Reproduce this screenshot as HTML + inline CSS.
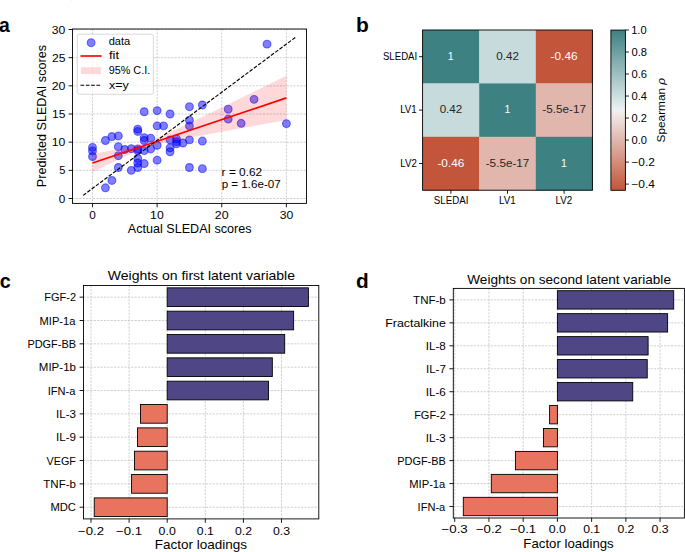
<!DOCTYPE html>
<html><head><meta charset="utf-8"><title>Figure</title>
<style>html,body{margin:0;padding:0;background:#fff;} svg{display:block;} text{font-family:"Liberation Sans",sans-serif;}</style>
</head><body>
<svg width="685" height="552" viewBox="0 0 685 552">
<rect width="685" height="552" fill="#fff"/>
<rect x="71" y="0" width="1" height="1" fill="#f0f0f0"/>
<text x="-0.98" y="32.30" font-size="20.48" font-weight="bold" fill="#000" textLength="10.76" lengthAdjust="spacingAndGlyphs">a</text>
<text x="355.94" y="32.20" font-size="20.48" font-weight="bold" fill="#000" textLength="12.82" lengthAdjust="spacingAndGlyphs">b</text>
<text x="-0.29" y="288.30" font-size="20.48" font-weight="bold" fill="#000" textLength="10.95" lengthAdjust="spacingAndGlyphs">c</text>
<text x="355.97" y="288.10" font-size="20.48" font-weight="bold" fill="#000" textLength="12.70" lengthAdjust="spacingAndGlyphs">d</text>
<clipPath id="clipa"><rect x="72.5" y="29.0" width="234.0" height="174.4"/></clipPath>
<line x1="92.50" y1="29.00" x2="92.50" y2="203.40" stroke="#c4c4c4" stroke-width="0.8" stroke-dasharray="2.2 1.2"/>
<line x1="157.13" y1="29.00" x2="157.13" y2="203.40" stroke="#c4c4c4" stroke-width="0.8" stroke-dasharray="2.2 1.2"/>
<line x1="221.76" y1="29.00" x2="221.76" y2="203.40" stroke="#c4c4c4" stroke-width="0.8" stroke-dasharray="2.2 1.2"/>
<line x1="286.39" y1="29.00" x2="286.39" y2="203.40" stroke="#c4c4c4" stroke-width="0.8" stroke-dasharray="2.2 1.2"/>
<line x1="72.50" y1="198.50" x2="306.50" y2="198.50" stroke="#c4c4c4" stroke-width="0.8" stroke-dasharray="2.2 1.2"/>
<line x1="72.50" y1="170.33" x2="306.50" y2="170.33" stroke="#c4c4c4" stroke-width="0.8" stroke-dasharray="2.2 1.2"/>
<line x1="72.50" y1="142.17" x2="306.50" y2="142.17" stroke="#c4c4c4" stroke-width="0.8" stroke-dasharray="2.2 1.2"/>
<line x1="72.50" y1="114.00" x2="306.50" y2="114.00" stroke="#c4c4c4" stroke-width="0.8" stroke-dasharray="2.2 1.2"/>
<line x1="72.50" y1="85.83" x2="306.50" y2="85.83" stroke="#c4c4c4" stroke-width="0.8" stroke-dasharray="2.2 1.2"/>
<line x1="72.50" y1="57.67" x2="306.50" y2="57.67" stroke="#c4c4c4" stroke-width="0.8" stroke-dasharray="2.2 1.2"/>
<line x1="72.50" y1="29.50" x2="306.50" y2="29.50" stroke="#c4c4c4" stroke-width="0.8" stroke-dasharray="2.2 1.2"/>
<g clip-path="url(#clipa)">
<g fill="#0000ff" fill-opacity="0.5" stroke="#0000ff" stroke-opacity="0.5" stroke-width="1.1">
<circle cx="92.50" cy="147.41" r="3.9"/>
<circle cx="92.50" cy="150.90" r="3.9"/>
<circle cx="92.50" cy="156.48" r="3.9"/>
<circle cx="105.43" cy="140.48" r="3.9"/>
<circle cx="105.43" cy="187.80" r="3.9"/>
<circle cx="111.89" cy="136.53" r="3.9"/>
<circle cx="111.89" cy="180.47" r="3.9"/>
<circle cx="118.35" cy="135.97" r="3.9"/>
<circle cx="118.35" cy="146.67" r="3.9"/>
<circle cx="118.35" cy="155.69" r="3.9"/>
<circle cx="118.35" cy="167.52" r="3.9"/>
<circle cx="124.81" cy="149.49" r="3.9"/>
<circle cx="131.28" cy="148.65" r="3.9"/>
<circle cx="131.28" cy="170.33" r="3.9"/>
<circle cx="137.74" cy="129.21" r="3.9"/>
<circle cx="137.74" cy="131.46" r="3.9"/>
<circle cx="137.74" cy="148.93" r="3.9"/>
<circle cx="137.74" cy="150.62" r="3.9"/>
<circle cx="137.74" cy="158.50" r="3.9"/>
<circle cx="137.74" cy="163.01" r="3.9"/>
<circle cx="137.74" cy="167.52" r="3.9"/>
<circle cx="144.20" cy="111.75" r="3.9"/>
<circle cx="144.20" cy="137.66" r="3.9"/>
<circle cx="144.20" cy="140.48" r="3.9"/>
<circle cx="144.20" cy="150.62" r="3.9"/>
<circle cx="144.20" cy="163.57" r="3.9"/>
<circle cx="150.67" cy="138.22" r="3.9"/>
<circle cx="150.67" cy="148.93" r="3.9"/>
<circle cx="157.13" cy="110.62" r="3.9"/>
<circle cx="157.13" cy="125.83" r="3.9"/>
<circle cx="157.13" cy="145.27" r="3.9"/>
<circle cx="157.13" cy="160.19" r="3.9"/>
<circle cx="163.59" cy="125.83" r="3.9"/>
<circle cx="170.06" cy="114.00" r="3.9"/>
<circle cx="170.06" cy="139.91" r="3.9"/>
<circle cx="170.06" cy="147.80" r="3.9"/>
<circle cx="170.06" cy="151.74" r="3.9"/>
<circle cx="176.52" cy="138.79" r="3.9"/>
<circle cx="176.52" cy="141.60" r="3.9"/>
<circle cx="176.52" cy="143.86" r="3.9"/>
<circle cx="182.98" cy="143.01" r="3.9"/>
<circle cx="189.44" cy="106.68" r="3.9"/>
<circle cx="189.44" cy="120.20" r="3.9"/>
<circle cx="189.44" cy="125.83" r="3.9"/>
<circle cx="189.44" cy="139.91" r="3.9"/>
<circle cx="189.44" cy="167.52" r="3.9"/>
<circle cx="202.37" cy="104.99" r="3.9"/>
<circle cx="202.37" cy="141.04" r="3.9"/>
<circle cx="202.37" cy="168.64" r="3.9"/>
<circle cx="228.22" cy="109.21" r="3.9"/>
<circle cx="228.22" cy="119.07" r="3.9"/>
<circle cx="241.15" cy="123.30" r="3.9"/>
<circle cx="254.07" cy="99.35" r="3.9"/>
<circle cx="267.00" cy="44.15" r="3.9"/>
<circle cx="286.39" cy="123.58" r="3.9"/>
</g>
<path d="M92.50,153.99 L95.73,153.39 L98.96,152.79 L102.19,152.18 L105.43,151.56 L108.66,150.94 L111.89,150.31 L115.12,149.68 L118.35,149.03 L121.58,148.37 L124.81,147.69 L128.05,146.99 L131.28,146.25 L134.51,145.48 L137.74,144.66 L140.97,143.77 L144.20,142.80 L147.44,141.74 L150.67,140.59 L153.90,139.36 L157.13,138.05 L160.36,136.68 L163.59,135.26 L166.82,133.81 L170.06,132.34 L173.29,130.84 L176.52,129.32 L179.75,127.79 L182.98,126.25 L186.21,124.71 L189.44,123.15 L192.68,121.60 L195.91,120.03 L199.14,118.47 L202.37,116.90 L205.60,115.33 L208.83,113.75 L212.07,112.18 L215.30,110.60 L218.53,109.02 L221.76,107.44 L224.99,105.86 L228.22,104.27 L231.45,102.69 L234.69,101.10 L237.92,99.52 L241.15,97.93 L244.38,96.35 L247.61,94.76 L250.84,93.17 L254.07,91.58 L257.31,90.00 L260.54,88.41 L263.77,86.82 L267.00,85.23 L270.23,83.64 L273.46,82.05 L276.70,80.46 L279.93,78.87 L283.16,77.28 L286.39,75.69 L286.39,120.09 L283.16,120.67 L279.93,121.25 L276.70,121.83 L273.46,122.41 L270.23,122.99 L267.00,123.57 L263.77,124.16 L260.54,124.74 L257.31,125.32 L254.07,125.90 L250.84,126.48 L247.61,127.07 L244.38,127.65 L241.15,128.23 L237.92,128.82 L234.69,129.40 L231.45,129.99 L228.22,130.58 L224.99,131.17 L221.76,131.75 L218.53,132.34 L215.30,132.94 L212.07,133.53 L208.83,134.12 L205.60,134.72 L202.37,135.32 L199.14,135.92 L195.91,136.52 L192.68,137.13 L189.44,137.74 L186.21,138.36 L182.98,138.99 L179.75,139.62 L176.52,140.26 L173.29,140.92 L170.06,141.59 L166.82,142.28 L163.59,143.00 L160.36,143.76 L157.13,144.56 L153.90,145.42 L150.67,146.36 L147.44,147.38 L144.20,148.49 L140.97,149.69 L137.74,150.97 L134.51,152.32 L131.28,153.72 L128.05,155.16 L124.81,156.62 L121.58,158.12 L118.35,159.62 L115.12,161.15 L111.89,162.68 L108.66,164.23 L105.43,165.78 L102.19,167.33 L98.96,168.89 L95.73,170.46 L92.50,172.03 Z" fill="#ff0000" fill-opacity="0.15"/>
<line x1="92.50" y1="163.01" x2="286.39" y2="97.89" stroke="#ff0000" stroke-width="1.67"/>
<line x1="83.10" y1="195.40" x2="296.30" y2="36.70" stroke="#000" stroke-width="1.15" stroke-dasharray="3.716 1.607"/>
</g>
<rect x="77.3" y="34.2" width="76.1" height="60.1" rx="2.2" fill="#fff" fill-opacity="0.8" stroke="#cccccc" stroke-opacity="0.8" stroke-width="0.9"/>
<circle cx="91.1" cy="42.7" r="3.9" fill="#0000ff" fill-opacity="0.5" stroke="#0000ff" stroke-opacity="0.5" stroke-width="1.1"/>
<line x1="80.50" y1="56.00" x2="101.60" y2="56.00" stroke="#ff0000" stroke-width="1.67"/>
<rect x="80.9" y="67.2" width="20.0" height="6.8" fill="#ff0000" fill-opacity="0.15"/>
<line x1="80.50" y1="85.20" x2="101.60" y2="85.20" stroke="#000" stroke-width="1.1" stroke-dasharray="3.7 1.6"/>
<text x="108.73" y="45.00" font-size="10.00" font-weight="normal" fill="#000" textLength="21.53" lengthAdjust="spacingAndGlyphs">data</text>
<text x="109.01" y="59.40" font-size="10.00" font-weight="normal" fill="#000" textLength="10.05" lengthAdjust="spacingAndGlyphs">fit</text>
<text x="108.69" y="74.30" font-size="10.00" font-weight="normal" fill="#000" textLength="41.49" lengthAdjust="spacingAndGlyphs">95% C.I.</text>
<text x="109.04" y="88.60" font-size="10.00" font-weight="normal" fill="#000" textLength="19.80" lengthAdjust="spacingAndGlyphs">x=y</text>
<text x="221.63" y="176.00" font-size="10.00" font-weight="normal" fill="#000" textLength="40.61" lengthAdjust="spacingAndGlyphs">r = 0.62</text>
<text x="221.65" y="187.70" font-size="10.00" font-weight="normal" fill="#000" textLength="59.04" lengthAdjust="spacingAndGlyphs">p = 1.6e-07</text>
<rect x="72.50" y="29.00" width="234.00" height="174.40" fill="none" stroke="#000" stroke-width="0.9"/>
<line x1="92.50" y1="203.40" x2="92.50" y2="207.30" stroke="#000" stroke-width="0.9"/>
<text x="89.23" y="219.10" font-size="11.65" font-weight="normal" fill="#000" textLength="6.53" lengthAdjust="spacingAndGlyphs">0</text>
<line x1="157.13" y1="203.40" x2="157.13" y2="207.30" stroke="#000" stroke-width="0.9"/>
<text x="150.12" y="219.10" font-size="11.65" font-weight="normal" fill="#000" textLength="13.58" lengthAdjust="spacingAndGlyphs">10</text>
<line x1="221.76" y1="203.40" x2="221.76" y2="207.30" stroke="#000" stroke-width="0.9"/>
<text x="214.84" y="219.10" font-size="11.65" font-weight="normal" fill="#000" textLength="13.71" lengthAdjust="spacingAndGlyphs">20</text>
<line x1="286.39" y1="203.40" x2="286.39" y2="207.30" stroke="#000" stroke-width="0.9"/>
<text x="279.65" y="219.10" font-size="11.65" font-weight="normal" fill="#000" textLength="13.51" lengthAdjust="spacingAndGlyphs">30</text>
<line x1="68.60" y1="198.50" x2="72.50" y2="198.50" stroke="#000" stroke-width="0.9"/>
<text x="58.82" y="202.55" font-size="11.65" font-weight="normal" fill="#000" textLength="6.53" lengthAdjust="spacingAndGlyphs">0</text>
<line x1="68.60" y1="170.33" x2="72.50" y2="170.33" stroke="#000" stroke-width="0.9"/>
<text x="59.21" y="174.38" font-size="11.65" font-weight="normal" fill="#000" textLength="6.14" lengthAdjust="spacingAndGlyphs">5</text>
<line x1="68.60" y1="142.17" x2="72.50" y2="142.17" stroke="#000" stroke-width="0.9"/>
<text x="51.80" y="146.22" font-size="11.65" font-weight="normal" fill="#000" textLength="13.58" lengthAdjust="spacingAndGlyphs">10</text>
<line x1="68.60" y1="114.00" x2="72.50" y2="114.00" stroke="#000" stroke-width="0.9"/>
<text x="52.04" y="118.05" font-size="11.65" font-weight="normal" fill="#000" textLength="13.37" lengthAdjust="spacingAndGlyphs">15</text>
<line x1="68.60" y1="85.83" x2="72.50" y2="85.83" stroke="#000" stroke-width="0.9"/>
<text x="51.69" y="89.88" font-size="11.65" font-weight="normal" fill="#000" textLength="13.71" lengthAdjust="spacingAndGlyphs">20</text>
<line x1="68.60" y1="57.67" x2="72.50" y2="57.67" stroke="#000" stroke-width="0.9"/>
<text x="51.92" y="61.72" font-size="11.65" font-weight="normal" fill="#000" textLength="13.50" lengthAdjust="spacingAndGlyphs">25</text>
<line x1="68.60" y1="29.50" x2="72.50" y2="29.50" stroke="#000" stroke-width="0.9"/>
<text x="51.87" y="33.55" font-size="11.65" font-weight="normal" fill="#000" textLength="13.51" lengthAdjust="spacingAndGlyphs">30</text>
<text x="127.82" y="232.70" font-size="12.36" font-weight="normal" fill="#000" textLength="123.76" lengthAdjust="spacingAndGlyphs">Actual SLEDAI scores</text>
<text transform="translate(45.85,115.80) rotate(-90)" x="-71.35" y="0" font-size="12.36" font-weight="normal" fill="#000" textLength="142.11" lengthAdjust="spacingAndGlyphs">Predicted SLEDAI scores</text>
<rect x="422.60" y="30.00" width="56.90" height="53.70" fill="#3d8183"/>
<rect x="479.20" y="30.00" width="56.90" height="53.70" fill="#c8dbdc"/>
<rect x="535.80" y="30.00" width="56.90" height="53.70" fill="#c3553a"/>
<rect x="422.60" y="83.40" width="56.90" height="53.70" fill="#c8dbdc"/>
<rect x="479.20" y="83.40" width="56.90" height="53.70" fill="#3d8183"/>
<rect x="535.80" y="83.40" width="56.90" height="53.70" fill="#e1b7ad"/>
<rect x="422.60" y="136.80" width="56.90" height="53.70" fill="#c3553a"/>
<rect x="479.20" y="136.80" width="56.90" height="53.70" fill="#e1b7ad"/>
<rect x="535.80" y="136.80" width="56.90" height="53.70" fill="#3d8183"/>
<text x="447.84" y="59.90" font-size="10.97" font-weight="normal" fill="#ffffff" textLength="5.85" lengthAdjust="spacingAndGlyphs">1</text>
<text x="496.26" y="59.90" font-size="10.97" font-weight="normal" fill="#262626" textLength="22.61" lengthAdjust="spacingAndGlyphs">0.42</text>
<text x="550.62" y="59.90" font-size="10.97" font-weight="normal" fill="#ffffff" textLength="26.95" lengthAdjust="spacingAndGlyphs">-0.46</text>
<text x="439.66" y="113.30" font-size="10.97" font-weight="normal" fill="#262626" textLength="22.61" lengthAdjust="spacingAndGlyphs">0.42</text>
<text x="504.44" y="113.30" font-size="10.97" font-weight="normal" fill="#ffffff" textLength="5.85" lengthAdjust="spacingAndGlyphs">1</text>
<text x="542.33" y="113.30" font-size="10.97" font-weight="normal" fill="#262626" textLength="43.62" lengthAdjust="spacingAndGlyphs">-5.5e-17</text>
<text x="437.42" y="166.70" font-size="10.97" font-weight="normal" fill="#ffffff" textLength="26.95" lengthAdjust="spacingAndGlyphs">-0.46</text>
<text x="485.73" y="166.70" font-size="10.97" font-weight="normal" fill="#262626" textLength="43.62" lengthAdjust="spacingAndGlyphs">-5.5e-17</text>
<text x="561.04" y="166.70" font-size="10.97" font-weight="normal" fill="#ffffff" textLength="5.85" lengthAdjust="spacingAndGlyphs">1</text>
<rect x="422.60" y="30.00" width="169.80" height="160.20" fill="none" stroke="#000" stroke-width="0.9"/>
<line x1="419.10" y1="56.70" x2="422.60" y2="56.70" stroke="#000" stroke-width="0.9"/>
<text x="382.96" y="59.70" font-size="9.99" font-weight="normal" fill="#000" textLength="34.23" lengthAdjust="spacingAndGlyphs">SLEDAI</text>
<line x1="450.90" y1="190.20" x2="450.90" y2="193.70" stroke="#000" stroke-width="0.9"/>
<text x="433.84" y="203.60" font-size="10.00" font-weight="normal" fill="#000" textLength="34.58" lengthAdjust="spacingAndGlyphs">SLEDAI</text>
<line x1="419.10" y1="110.10" x2="422.60" y2="110.10" stroke="#000" stroke-width="0.9"/>
<text x="400.17" y="113.10" font-size="9.99" font-weight="normal" fill="#000" textLength="16.59" lengthAdjust="spacingAndGlyphs">LV1</text>
<line x1="507.50" y1="190.20" x2="507.50" y2="193.70" stroke="#000" stroke-width="0.9"/>
<text x="498.95" y="203.60" font-size="10.00" font-weight="normal" fill="#000" textLength="16.76" lengthAdjust="spacingAndGlyphs">LV1</text>
<line x1="419.10" y1="163.50" x2="422.60" y2="163.50" stroke="#000" stroke-width="0.9"/>
<text x="400.25" y="166.50" font-size="9.99" font-weight="normal" fill="#000" textLength="16.54" lengthAdjust="spacingAndGlyphs">LV2</text>
<line x1="564.10" y1="190.20" x2="564.10" y2="193.70" stroke="#000" stroke-width="0.9"/>
<text x="555.59" y="203.60" font-size="10.00" font-weight="normal" fill="#000" textLength="16.71" lengthAdjust="spacingAndGlyphs">LV2</text>
<linearGradient id="cbg" x1="0" y1="1" x2="0" y2="0">
<stop offset="0.000" stop-color="#c3553a"/>
<stop offset="0.050" stop-color="#c7644b"/>
<stop offset="0.100" stop-color="#cc745d"/>
<stop offset="0.150" stop-color="#d18470"/>
<stop offset="0.200" stop-color="#d69483"/>
<stop offset="0.250" stop-color="#dba496"/>
<stop offset="0.300" stop-color="#dfb3a7"/>
<stop offset="0.350" stop-color="#e4c2ba"/>
<stop offset="0.400" stop-color="#e9d2cd"/>
<stop offset="0.450" stop-color="#eee2df"/>
<stop offset="0.500" stop-color="#eff2f2"/>
<stop offset="0.550" stop-color="#dbe8e8"/>
<stop offset="0.600" stop-color="#cadcdd"/>
<stop offset="0.650" stop-color="#b8d1d1"/>
<stop offset="0.700" stop-color="#a6c5c6"/>
<stop offset="0.750" stop-color="#94b9ba"/>
<stop offset="0.800" stop-color="#83afb0"/>
<stop offset="0.850" stop-color="#71a3a4"/>
<stop offset="0.900" stop-color="#609799"/>
<stop offset="0.950" stop-color="#4e8c8e"/>
<stop offset="1.000" stop-color="#3d8183"/>
</linearGradient>
<rect x="610.9" y="30.1" width="14.50" height="160.20" fill="url(#cbg)" stroke="#000" stroke-width="0.9"/>
<line x1="625.40" y1="30.00" x2="628.90" y2="30.00" stroke="#000" stroke-width="0.9"/>
<text x="631.17" y="34.10" font-size="10.00" font-weight="normal" fill="#000" textLength="15.40" lengthAdjust="spacingAndGlyphs">1.0</text>
<line x1="625.40" y1="52.01" x2="628.90" y2="52.01" stroke="#000" stroke-width="0.9"/>
<text x="631.55" y="56.11" font-size="10.00" font-weight="normal" fill="#000" textLength="15.50" lengthAdjust="spacingAndGlyphs">0.8</text>
<line x1="625.40" y1="74.03" x2="628.90" y2="74.03" stroke="#000" stroke-width="0.9"/>
<text x="631.55" y="78.13" font-size="10.00" font-weight="normal" fill="#000" textLength="15.55" lengthAdjust="spacingAndGlyphs">0.6</text>
<line x1="625.40" y1="96.04" x2="628.90" y2="96.04" stroke="#000" stroke-width="0.9"/>
<text x="631.56" y="100.14" font-size="10.00" font-weight="normal" fill="#000" textLength="15.45" lengthAdjust="spacingAndGlyphs">0.4</text>
<line x1="625.40" y1="118.06" x2="628.90" y2="118.06" stroke="#000" stroke-width="0.9"/>
<text x="631.56" y="122.16" font-size="10.00" font-weight="normal" fill="#000" textLength="15.27" lengthAdjust="spacingAndGlyphs">0.2</text>
<line x1="625.40" y1="140.07" x2="628.90" y2="140.07" stroke="#000" stroke-width="0.9"/>
<text x="631.56" y="144.17" font-size="10.00" font-weight="normal" fill="#000" textLength="15.46" lengthAdjust="spacingAndGlyphs">0.0</text>
<line x1="625.40" y1="162.08" x2="628.90" y2="162.08" stroke="#000" stroke-width="0.9"/>
<text x="631.41" y="166.18" font-size="10.00" font-weight="normal" fill="#000" textLength="23.46" lengthAdjust="spacingAndGlyphs">−0.2</text>
<line x1="625.40" y1="184.10" x2="628.90" y2="184.10" stroke="#000" stroke-width="0.9"/>
<text x="631.40" y="188.20" font-size="10.00" font-weight="normal" fill="#000" textLength="23.62" lengthAdjust="spacingAndGlyphs">−0.4</text>
<line x1="91.00" y1="285.50" x2="91.00" y2="518.90" stroke="#c4c4c4" stroke-width="0.8" stroke-dasharray="2.2 1.2"/>
<line x1="129.10" y1="285.50" x2="129.10" y2="518.90" stroke="#c4c4c4" stroke-width="0.8" stroke-dasharray="2.2 1.2"/>
<line x1="167.20" y1="285.50" x2="167.20" y2="518.90" stroke="#c4c4c4" stroke-width="0.8" stroke-dasharray="2.2 1.2"/>
<line x1="205.30" y1="285.50" x2="205.30" y2="518.90" stroke="#c4c4c4" stroke-width="0.8" stroke-dasharray="2.2 1.2"/>
<line x1="243.40" y1="285.50" x2="243.40" y2="518.90" stroke="#c4c4c4" stroke-width="0.8" stroke-dasharray="2.2 1.2"/>
<line x1="281.50" y1="285.50" x2="281.50" y2="518.90" stroke="#c4c4c4" stroke-width="0.8" stroke-dasharray="2.2 1.2"/>
<line x1="83.50" y1="297.17" x2="318.80" y2="297.17" stroke="#c4c4c4" stroke-width="0.8" stroke-dasharray="2.2 1.2"/>
<line x1="83.50" y1="320.51" x2="318.80" y2="320.51" stroke="#c4c4c4" stroke-width="0.8" stroke-dasharray="2.2 1.2"/>
<line x1="83.50" y1="343.85" x2="318.80" y2="343.85" stroke="#c4c4c4" stroke-width="0.8" stroke-dasharray="2.2 1.2"/>
<line x1="83.50" y1="367.19" x2="318.80" y2="367.19" stroke="#c4c4c4" stroke-width="0.8" stroke-dasharray="2.2 1.2"/>
<line x1="83.50" y1="390.53" x2="318.80" y2="390.53" stroke="#c4c4c4" stroke-width="0.8" stroke-dasharray="2.2 1.2"/>
<line x1="83.50" y1="413.87" x2="318.80" y2="413.87" stroke="#c4c4c4" stroke-width="0.8" stroke-dasharray="2.2 1.2"/>
<line x1="83.50" y1="437.21" x2="318.80" y2="437.21" stroke="#c4c4c4" stroke-width="0.8" stroke-dasharray="2.2 1.2"/>
<line x1="83.50" y1="460.55" x2="318.80" y2="460.55" stroke="#c4c4c4" stroke-width="0.8" stroke-dasharray="2.2 1.2"/>
<line x1="83.50" y1="483.89" x2="318.80" y2="483.89" stroke="#c4c4c4" stroke-width="0.8" stroke-dasharray="2.2 1.2"/>
<line x1="83.50" y1="507.23" x2="318.80" y2="507.23" stroke="#c4c4c4" stroke-width="0.8" stroke-dasharray="2.2 1.2"/>
<rect x="167.20" y="287.83" width="141.20" height="18.67" fill="#4f4785" stroke="#000" stroke-width="0.9"/>
<rect x="167.20" y="311.17" width="126.42" height="18.67" fill="#4f4785" stroke="#000" stroke-width="0.9"/>
<rect x="167.20" y="334.51" width="117.50" height="18.67" fill="#4f4785" stroke="#000" stroke-width="0.9"/>
<rect x="167.20" y="357.85" width="105.12" height="18.67" fill="#4f4785" stroke="#000" stroke-width="0.9"/>
<rect x="167.20" y="381.19" width="101.31" height="18.67" fill="#4f4785" stroke="#000" stroke-width="0.9"/>
<rect x="140.53" y="404.53" width="26.67" height="18.67" fill="#e8735f" stroke="#000" stroke-width="0.9"/>
<rect x="137.48" y="427.87" width="29.72" height="18.67" fill="#e8735f" stroke="#000" stroke-width="0.9"/>
<rect x="134.43" y="451.21" width="32.77" height="18.67" fill="#e8735f" stroke="#000" stroke-width="0.9"/>
<rect x="131.58" y="474.55" width="35.62" height="18.67" fill="#e8735f" stroke="#000" stroke-width="0.9"/>
<rect x="94.24" y="497.89" width="72.96" height="18.67" fill="#e8735f" stroke="#000" stroke-width="0.9"/>
<rect x="83.50" y="285.50" width="235.30" height="233.40" fill="none" stroke="#000" stroke-width="0.9"/>
<line x1="91.00" y1="518.90" x2="91.00" y2="522.80" stroke="#000" stroke-width="0.9"/>
<text x="77.99" y="534.80" font-size="11.65" font-weight="normal" fill="#000" textLength="26.04" lengthAdjust="spacingAndGlyphs">−0.2</text>
<line x1="129.10" y1="518.90" x2="129.10" y2="522.80" stroke="#000" stroke-width="0.9"/>
<text x="116.05" y="534.80" font-size="11.65" font-weight="normal" fill="#000" textLength="26.09" lengthAdjust="spacingAndGlyphs">−0.1</text>
<line x1="167.20" y1="518.90" x2="167.20" y2="522.80" stroke="#000" stroke-width="0.9"/>
<text x="158.60" y="534.80" font-size="11.65" font-weight="normal" fill="#000" textLength="17.17" lengthAdjust="spacingAndGlyphs">0.0</text>
<line x1="205.30" y1="518.90" x2="205.30" y2="522.80" stroke="#000" stroke-width="0.9"/>
<text x="196.85" y="534.80" font-size="11.65" font-weight="normal" fill="#000" textLength="17.00" lengthAdjust="spacingAndGlyphs">0.1</text>
<line x1="243.40" y1="518.90" x2="243.40" y2="522.80" stroke="#000" stroke-width="0.9"/>
<text x="234.99" y="534.80" font-size="11.65" font-weight="normal" fill="#000" textLength="16.94" lengthAdjust="spacingAndGlyphs">0.2</text>
<line x1="281.50" y1="518.90" x2="281.50" y2="522.80" stroke="#000" stroke-width="0.9"/>
<text x="272.97" y="534.80" font-size="11.65" font-weight="normal" fill="#000" textLength="17.08" lengthAdjust="spacingAndGlyphs">0.3</text>
<line x1="79.60" y1="297.17" x2="83.50" y2="297.17" stroke="#000" stroke-width="0.9"/>
<text x="44.35" y="301.22" font-size="11.65" font-weight="normal" fill="#000" textLength="31.72" lengthAdjust="spacingAndGlyphs">FGF-2</text>
<line x1="79.60" y1="320.51" x2="83.50" y2="320.51" stroke="#000" stroke-width="0.9"/>
<text x="39.50" y="324.56" font-size="11.65" font-weight="normal" fill="#000" textLength="35.98" lengthAdjust="spacingAndGlyphs">MIP-1a</text>
<line x1="79.60" y1="343.85" x2="83.50" y2="343.85" stroke="#000" stroke-width="0.9"/>
<text x="27.39" y="347.90" font-size="11.65" font-weight="normal" fill="#000" textLength="48.68" lengthAdjust="spacingAndGlyphs">PDGF-BB</text>
<line x1="79.60" y1="367.19" x2="83.50" y2="367.19" stroke="#000" stroke-width="0.9"/>
<text x="38.84" y="371.24" font-size="11.65" font-weight="normal" fill="#000" textLength="37.13" lengthAdjust="spacingAndGlyphs">MIP-1b</text>
<line x1="79.60" y1="390.53" x2="83.50" y2="390.53" stroke="#000" stroke-width="0.9"/>
<text x="47.78" y="394.58" font-size="11.65" font-weight="normal" fill="#000" textLength="27.69" lengthAdjust="spacingAndGlyphs">IFN-a</text>
<line x1="79.60" y1="413.87" x2="83.50" y2="413.87" stroke="#000" stroke-width="0.9"/>
<text x="56.06" y="417.92" font-size="11.65" font-weight="normal" fill="#000" textLength="19.94" lengthAdjust="spacingAndGlyphs">IL-3</text>
<line x1="79.60" y1="437.21" x2="83.50" y2="437.21" stroke="#000" stroke-width="0.9"/>
<text x="55.97" y="441.26" font-size="11.65" font-weight="normal" fill="#000" textLength="20.06" lengthAdjust="spacingAndGlyphs">IL-9</text>
<line x1="79.60" y1="460.55" x2="83.50" y2="460.55" stroke="#000" stroke-width="0.9"/>
<text x="46.59" y="464.60" font-size="11.65" font-weight="normal" fill="#000" textLength="29.35" lengthAdjust="spacingAndGlyphs">VEGF</text>
<line x1="79.60" y1="483.89" x2="83.50" y2="483.89" stroke="#000" stroke-width="0.9"/>
<text x="43.30" y="487.94" font-size="11.65" font-weight="normal" fill="#000" textLength="32.67" lengthAdjust="spacingAndGlyphs">TNF-b</text>
<line x1="79.60" y1="507.23" x2="83.50" y2="507.23" stroke="#000" stroke-width="0.9"/>
<text x="50.38" y="511.28" font-size="11.65" font-weight="normal" fill="#000" textLength="25.54" lengthAdjust="spacingAndGlyphs">MDC</text>
<text x="107.83" y="279.70" font-size="12.76" font-weight="normal" fill="#000" textLength="187.17" lengthAdjust="spacingAndGlyphs">Weights on first latent variable</text>
<text x="154.67" y="548.60" font-size="12.81" font-weight="normal" fill="#000" textLength="92.32" lengthAdjust="spacingAndGlyphs">Factor loadings</text>
<line x1="454.71" y1="288.40" x2="454.71" y2="518.00" stroke="#c4c4c4" stroke-width="0.8" stroke-dasharray="2.2 1.2"/>
<line x1="488.94" y1="288.40" x2="488.94" y2="518.00" stroke="#c4c4c4" stroke-width="0.8" stroke-dasharray="2.2 1.2"/>
<line x1="523.17" y1="288.40" x2="523.17" y2="518.00" stroke="#c4c4c4" stroke-width="0.8" stroke-dasharray="2.2 1.2"/>
<line x1="557.40" y1="288.40" x2="557.40" y2="518.00" stroke="#c4c4c4" stroke-width="0.8" stroke-dasharray="2.2 1.2"/>
<line x1="591.63" y1="288.40" x2="591.63" y2="518.00" stroke="#c4c4c4" stroke-width="0.8" stroke-dasharray="2.2 1.2"/>
<line x1="625.86" y1="288.40" x2="625.86" y2="518.00" stroke="#c4c4c4" stroke-width="0.8" stroke-dasharray="2.2 1.2"/>
<line x1="660.09" y1="288.40" x2="660.09" y2="518.00" stroke="#c4c4c4" stroke-width="0.8" stroke-dasharray="2.2 1.2"/>
<line x1="453.30" y1="299.88" x2="684.40" y2="299.88" stroke="#c4c4c4" stroke-width="0.8" stroke-dasharray="2.2 1.2"/>
<line x1="453.30" y1="322.84" x2="684.40" y2="322.84" stroke="#c4c4c4" stroke-width="0.8" stroke-dasharray="2.2 1.2"/>
<line x1="453.30" y1="345.80" x2="684.40" y2="345.80" stroke="#c4c4c4" stroke-width="0.8" stroke-dasharray="2.2 1.2"/>
<line x1="453.30" y1="368.76" x2="684.40" y2="368.76" stroke="#c4c4c4" stroke-width="0.8" stroke-dasharray="2.2 1.2"/>
<line x1="453.30" y1="391.72" x2="684.40" y2="391.72" stroke="#c4c4c4" stroke-width="0.8" stroke-dasharray="2.2 1.2"/>
<line x1="453.30" y1="414.68" x2="684.40" y2="414.68" stroke="#c4c4c4" stroke-width="0.8" stroke-dasharray="2.2 1.2"/>
<line x1="453.30" y1="437.64" x2="684.40" y2="437.64" stroke="#c4c4c4" stroke-width="0.8" stroke-dasharray="2.2 1.2"/>
<line x1="453.30" y1="460.60" x2="684.40" y2="460.60" stroke="#c4c4c4" stroke-width="0.8" stroke-dasharray="2.2 1.2"/>
<line x1="453.30" y1="483.56" x2="684.40" y2="483.56" stroke="#c4c4c4" stroke-width="0.8" stroke-dasharray="2.2 1.2"/>
<line x1="453.30" y1="506.52" x2="684.40" y2="506.52" stroke="#c4c4c4" stroke-width="0.8" stroke-dasharray="2.2 1.2"/>
<rect x="557.40" y="290.70" width="116.31" height="18.37" fill="#4f4785" stroke="#000" stroke-width="0.9"/>
<rect x="557.40" y="313.66" width="110.22" height="18.37" fill="#4f4785" stroke="#000" stroke-width="0.9"/>
<rect x="557.40" y="336.62" width="90.71" height="18.37" fill="#4f4785" stroke="#000" stroke-width="0.9"/>
<rect x="557.40" y="359.58" width="89.82" height="18.37" fill="#4f4785" stroke="#000" stroke-width="0.9"/>
<rect x="557.40" y="382.54" width="75.34" height="18.37" fill="#4f4785" stroke="#000" stroke-width="0.9"/>
<rect x="549.60" y="405.50" width="7.80" height="18.37" fill="#e8735f" stroke="#000" stroke-width="0.9"/>
<rect x="543.50" y="428.46" width="13.90" height="18.37" fill="#e8735f" stroke="#000" stroke-width="0.9"/>
<rect x="515.40" y="451.42" width="42.00" height="18.37" fill="#e8735f" stroke="#000" stroke-width="0.9"/>
<rect x="491.30" y="474.38" width="66.10" height="18.37" fill="#e8735f" stroke="#000" stroke-width="0.9"/>
<rect x="463.30" y="497.34" width="94.10" height="18.37" fill="#e8735f" stroke="#000" stroke-width="0.9"/>
<rect x="453.30" y="288.40" width="231.10" height="229.60" fill="none" stroke="#000" stroke-width="0.9"/>
<line x1="454.71" y1="518.00" x2="454.71" y2="521.90" stroke="#000" stroke-width="0.9"/>
<text x="441.59" y="533.40" font-size="11.65" font-weight="normal" fill="#000" textLength="26.17" lengthAdjust="spacingAndGlyphs">−0.3</text>
<line x1="488.94" y1="518.00" x2="488.94" y2="521.90" stroke="#000" stroke-width="0.9"/>
<text x="475.93" y="533.40" font-size="11.65" font-weight="normal" fill="#000" textLength="26.04" lengthAdjust="spacingAndGlyphs">−0.2</text>
<line x1="523.17" y1="518.00" x2="523.17" y2="521.90" stroke="#000" stroke-width="0.9"/>
<text x="510.12" y="533.40" font-size="11.65" font-weight="normal" fill="#000" textLength="26.09" lengthAdjust="spacingAndGlyphs">−0.1</text>
<line x1="557.40" y1="518.00" x2="557.40" y2="521.90" stroke="#000" stroke-width="0.9"/>
<text x="548.80" y="533.40" font-size="11.65" font-weight="normal" fill="#000" textLength="17.17" lengthAdjust="spacingAndGlyphs">0.0</text>
<line x1="591.63" y1="518.00" x2="591.63" y2="521.90" stroke="#000" stroke-width="0.9"/>
<text x="583.18" y="533.40" font-size="11.65" font-weight="normal" fill="#000" textLength="17.00" lengthAdjust="spacingAndGlyphs">0.1</text>
<line x1="625.86" y1="518.00" x2="625.86" y2="521.90" stroke="#000" stroke-width="0.9"/>
<text x="617.45" y="533.40" font-size="11.65" font-weight="normal" fill="#000" textLength="16.94" lengthAdjust="spacingAndGlyphs">0.2</text>
<line x1="660.09" y1="518.00" x2="660.09" y2="521.90" stroke="#000" stroke-width="0.9"/>
<text x="651.56" y="533.40" font-size="11.65" font-weight="normal" fill="#000" textLength="17.08" lengthAdjust="spacingAndGlyphs">0.3</text>
<line x1="449.40" y1="299.88" x2="453.30" y2="299.88" stroke="#000" stroke-width="0.9"/>
<text x="413.10" y="303.93" font-size="11.65" font-weight="normal" fill="#000" textLength="32.67" lengthAdjust="spacingAndGlyphs">TNF-b</text>
<line x1="449.40" y1="322.84" x2="453.30" y2="322.84" stroke="#000" stroke-width="0.9"/>
<text x="385.28" y="326.89" font-size="11.65" font-weight="normal" fill="#000" textLength="60.55" lengthAdjust="spacingAndGlyphs">Fractalkine</text>
<line x1="449.40" y1="345.80" x2="453.30" y2="345.80" stroke="#000" stroke-width="0.9"/>
<text x="425.74" y="349.85" font-size="11.65" font-weight="normal" fill="#000" textLength="20.06" lengthAdjust="spacingAndGlyphs">IL-8</text>
<line x1="449.40" y1="368.76" x2="453.30" y2="368.76" stroke="#000" stroke-width="0.9"/>
<text x="425.94" y="372.81" font-size="11.65" font-weight="normal" fill="#000" textLength="19.94" lengthAdjust="spacingAndGlyphs">IL-7</text>
<line x1="449.40" y1="391.72" x2="453.30" y2="391.72" stroke="#000" stroke-width="0.9"/>
<text x="425.68" y="395.77" font-size="11.65" font-weight="normal" fill="#000" textLength="20.12" lengthAdjust="spacingAndGlyphs">IL-6</text>
<line x1="449.40" y1="414.68" x2="453.30" y2="414.68" stroke="#000" stroke-width="0.9"/>
<text x="414.15" y="418.73" font-size="11.65" font-weight="normal" fill="#000" textLength="31.72" lengthAdjust="spacingAndGlyphs">FGF-2</text>
<line x1="449.40" y1="437.64" x2="453.30" y2="437.64" stroke="#000" stroke-width="0.9"/>
<text x="425.86" y="441.69" font-size="11.65" font-weight="normal" fill="#000" textLength="19.94" lengthAdjust="spacingAndGlyphs">IL-3</text>
<line x1="449.40" y1="460.60" x2="453.30" y2="460.60" stroke="#000" stroke-width="0.9"/>
<text x="397.19" y="464.65" font-size="11.65" font-weight="normal" fill="#000" textLength="48.68" lengthAdjust="spacingAndGlyphs">PDGF-BB</text>
<line x1="449.40" y1="483.56" x2="453.30" y2="483.56" stroke="#000" stroke-width="0.9"/>
<text x="409.30" y="487.61" font-size="11.65" font-weight="normal" fill="#000" textLength="35.98" lengthAdjust="spacingAndGlyphs">MIP-1a</text>
<line x1="449.40" y1="506.52" x2="453.30" y2="506.52" stroke="#000" stroke-width="0.9"/>
<text x="417.58" y="510.57" font-size="11.65" font-weight="normal" fill="#000" textLength="27.69" lengthAdjust="spacingAndGlyphs">IFN-a</text>
<text x="467.26" y="283.50" font-size="12.57" font-weight="normal" fill="#000" textLength="203.70" lengthAdjust="spacingAndGlyphs">Weights on second latent variable</text>
<text x="523.36" y="547.50" font-size="12.54" font-weight="normal" fill="#000" textLength="90.35" lengthAdjust="spacingAndGlyphs">Factor loadings</text>
<text transform="translate(664.80,110.10) rotate(-90)" x="-32.34" y="0" font-size="11.23" font-weight="normal" fill="#000" textLength="64.59" lengthAdjust="spacingAndGlyphs">Spearman <tspan font-style="italic">ρ</tspan></text>
</svg>
</body></html>
